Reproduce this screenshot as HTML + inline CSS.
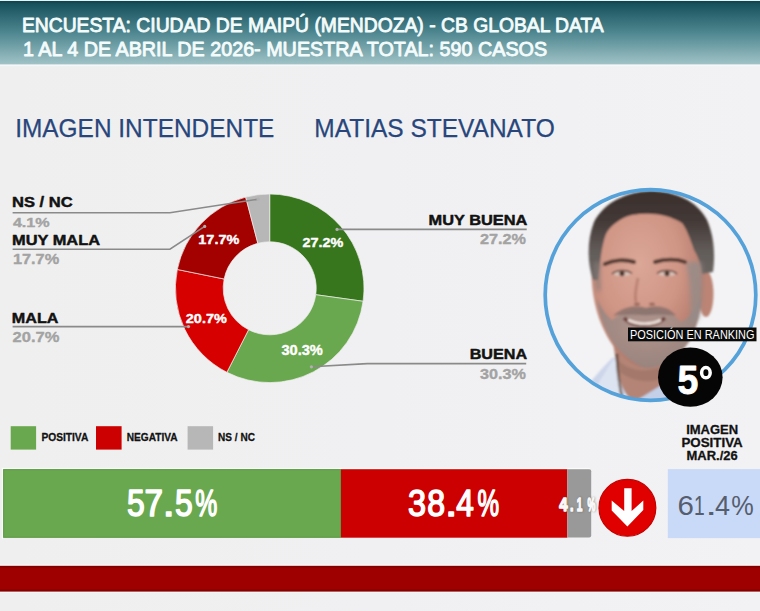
<!DOCTYPE html>
<html><head><meta charset="utf-8"><style>
html,body{margin:0;padding:0;width:760px;height:611px;overflow:hidden;background:#f0f0f1}
svg{display:block;font-family:"Liberation Sans",sans-serif}
</style></head><body>
<svg width="760" height="611" viewBox="0 0 760 611">
<defs><linearGradient id="bgg" x1="0" y1="0" x2="1" y2="0"><stop offset="0" stop-color="#efefef"/><stop offset="0.5" stop-color="#f0f0f2"/><stop offset="1" stop-color="#f2f2f4"/></linearGradient></defs><rect x="0" y="0" width="760" height="611" fill="url(#bgg)"/><defs>
<linearGradient id="hg" x1="0" y1="0" x2="0" y2="1">
<stop offset="0" stop-color="#143f48"/><stop offset="0.05" stop-color="#18525d"/><stop offset="0.5" stop-color="#4f8790"/><stop offset="1" stop-color="#a0c3c7"/>
</linearGradient>
<linearGradient id="stripe" x1="0" y1="0" x2="0" y2="1">
<stop offset="0" stop-color="#7a0000"/><stop offset="0.12" stop-color="#9e0000"/><stop offset="0.88" stop-color="#9e0000"/><stop offset="1" stop-color="#7a0000"/>
</linearGradient>
<clipPath id="photoclip"><circle cx="650.5" cy="295" r="105"/></clipPath>
<filter id="blur2" x="-20%" y="-20%" width="140%" height="140%"><feGaussianBlur stdDeviation="2"/></filter>
<filter id="blur4" x="-30%" y="-30%" width="160%" height="160%"><feGaussianBlur stdDeviation="4"/></filter>
<filter id="blur1"><feGaussianBlur stdDeviation="1"/></filter>
</defs><rect x="0" y="0" width="760" height="1" fill="#dff6fa"/><rect x="0" y="1" width="760" height="63.6" fill="url(#hg)"/><rect x="0" y="64.6" width="760" height="1.5" fill="#f6f7f9"/><text x="21.9" y="31.8" font-size="20.78" fill="#f4fbfb"  text-anchor="start" textLength="581.8" lengthAdjust="spacingAndGlyphs"  stroke="#f4fbfb" stroke-width="0.9" stroke-linejoin="round">ENCUESTA: CIUDAD DE MAIPÚ (MENDOZA) - CB GLOBAL DATA</text>
<text x="22.9" y="55.6" font-size="20.35" fill="#f4fbfb"  text-anchor="start" textLength="524.2" lengthAdjust="spacingAndGlyphs"  stroke="#f4fbfb" stroke-width="0.9" stroke-linejoin="round">1 AL 4 DE ABRIL DE 2026- MUESTRA TOTAL: 590 CASOS</text>
<text x="15.2" y="136.9" font-size="26.16" fill="#28467c"  text-anchor="start" textLength="259.2" lengthAdjust="spacingAndGlyphs"  stroke="#28467c" stroke-width="0.25" stroke-linejoin="round">IMAGEN INTENDENTE</text>
<text x="314.3" y="137.3" font-size="26.16" fill="#28467c"  text-anchor="start" textLength="240.4" lengthAdjust="spacingAndGlyphs"  stroke="#28467c" stroke-width="0.25" stroke-linejoin="round">MATIAS STEVANATO</text>
<path d="M269.70,194.00 A94.3,94.3 0 0 1 363.10,301.29 L315.76,294.71 A46.5,46.5 0 0 0 269.70,241.80 Z" fill="#38761d" stroke="#eeeeee" stroke-width="0.7"/>
<path d="M363.10,301.29 A94.3,94.3 0 0 1 226.89,372.32 L248.59,329.73 A46.5,46.5 0 0 0 315.76,294.71 Z" fill="#6aa84f" stroke="#eeeeee" stroke-width="0.7"/>
<path d="M226.89,372.32 A94.3,94.3 0 0 1 177.30,269.47 L224.14,279.01 A46.5,46.5 0 0 0 248.59,329.73 Z" fill="#d60000" stroke="#eeeeee" stroke-width="0.7"/>
<path d="M177.30,269.47 A94.3,94.3 0 0 1 245.68,197.11 L257.85,243.33 A46.5,46.5 0 0 0 224.14,279.01 Z" fill="#a30000" stroke="#eeeeee" stroke-width="0.7"/>
<path d="M245.68,197.11 A94.3,94.3 0 0 1 269.70,194.00 L269.70,241.80 A46.5,46.5 0 0 0 257.85,243.33 Z" fill="#b7b7b7" stroke="#eeeeee" stroke-width="0.7"/>
<g stroke="#8a8a8a" stroke-width="1.6" fill="none"><polyline points="12.6,212.7 169.9,212.7 258.2,199.2"/><polyline points="12.6,249.2 169.9,249.2 204.7,226.4"/><polyline points="12.6,326.6 188.5,326.6"/><polyline points="337,229.4 526.7,229.4"/><polyline points="311.4,366.8 367.3,363.6 526.2,363.6"/></g><g fill="#b0b0b0"><circle cx="258.2" cy="199.2" r="1.6"/><circle cx="204.7" cy="226.4" r="1.6"/><circle cx="188.5" cy="326.6" r="1.6"/><circle cx="337" cy="229.4" r="1.6"/><circle cx="311.4" cy="366.8" r="1.6"/></g><text x="12.0" y="207.4" font-size="13.95" fill="#121212" font-weight="bold" text-anchor="start" textLength="60.6" lengthAdjust="spacingAndGlyphs"  stroke="#121212" stroke-width="0.45" stroke-linejoin="round">NS / NC</text>
<text x="12.9" y="227.4" font-size="13.37" fill="#a3a3a3" font-weight="bold" text-anchor="start" textLength="36.8" lengthAdjust="spacingAndGlyphs"  stroke="#a3a3a3" stroke-width="0.35" stroke-linejoin="round">4.1%</text>
<text x="12.0" y="245.0" font-size="13.95" fill="#121212" font-weight="bold" text-anchor="start" textLength="88.0" lengthAdjust="spacingAndGlyphs"  stroke="#121212" stroke-width="0.45" stroke-linejoin="round">MUY MALA</text>
<text x="12.9" y="264.3" font-size="14.24" fill="#a3a3a3" font-weight="bold" text-anchor="start" textLength="46.3" lengthAdjust="spacingAndGlyphs"  stroke="#a3a3a3" stroke-width="0.35" stroke-linejoin="round">17.7%</text>
<text x="11.8" y="322.7" font-size="14.53" fill="#121212" font-weight="bold" text-anchor="start" textLength="46.6" lengthAdjust="spacingAndGlyphs"  stroke="#121212" stroke-width="0.45" stroke-linejoin="round">MALA</text>
<text x="12.6" y="342.4" font-size="14.53" fill="#a3a3a3" font-weight="bold" text-anchor="start" textLength="46.8" lengthAdjust="spacingAndGlyphs"  stroke="#a3a3a3" stroke-width="0.35" stroke-linejoin="round">20.7%</text>
<text x="428.5" y="224.6" font-size="14.1" fill="#121212" font-weight="bold" text-anchor="start" textLength="98.9" lengthAdjust="spacingAndGlyphs"  stroke="#121212" stroke-width="0.45" stroke-linejoin="round">MUY BUENA</text>
<text x="480" y="244.4" font-size="14.1" fill="#a3a3a3" font-weight="bold" text-anchor="start" textLength="46" lengthAdjust="spacingAndGlyphs"  stroke="#a3a3a3" stroke-width="0.35" stroke-linejoin="round">27.2%</text>
<text x="469.7" y="359.3" font-size="14.53" fill="#121212" font-weight="bold" text-anchor="start" textLength="57.4" lengthAdjust="spacingAndGlyphs"  stroke="#121212" stroke-width="0.45" stroke-linejoin="round">BUENA</text>
<text x="480" y="379.3" font-size="15.12" fill="#a3a3a3" font-weight="bold" text-anchor="start" textLength="46" lengthAdjust="spacingAndGlyphs"  stroke="#a3a3a3" stroke-width="0.35" stroke-linejoin="round">30.3%</text>
<text x="302.5" y="246.5" font-size="13.37" fill="#ffffff" font-weight="bold" text-anchor="start" textLength="40.8" lengthAdjust="spacingAndGlyphs"  stroke="#ffffff" stroke-width="0.4" stroke-linejoin="round">27.2%</text>
<text x="281.4" y="355.4" font-size="13.95" fill="#ffffff" font-weight="bold" text-anchor="start" textLength="41.4" lengthAdjust="spacingAndGlyphs"  stroke="#ffffff" stroke-width="0.4" stroke-linejoin="round">30.3%</text>
<text x="185.8" y="323.4" font-size="13.08" fill="#ffffff" font-weight="bold" text-anchor="start" textLength="41" lengthAdjust="spacingAndGlyphs"  stroke="#ffffff" stroke-width="0.4" stroke-linejoin="round">20.7%</text>
<text x="198.3" y="244.2" font-size="13.08" fill="#ffffff" font-weight="bold" text-anchor="start" textLength="41" lengthAdjust="spacingAndGlyphs"  stroke="#ffffff" stroke-width="0.4" stroke-linejoin="round">17.7%</text>
<g clip-path="url(#photoclip)"><rect x="540" y="185" width="220" height="225" fill="#f3f3f5"/><defs>
<radialGradient id="skin" cx="0.42" cy="0.35" r="0.65">
<stop offset="0" stop-color="#dba797"/><stop offset="0.55" stop-color="#cf9585"/><stop offset="1" stop-color="#b07768"/>
</radialGradient>
<linearGradient id="hairg" gradientUnits="userSpaceOnUse" x1="0" y1="190" x2="0" y2="292">
<stop offset="0" stop-color="#3a2f2b"/><stop offset="0.3" stop-color="#433936"/><stop offset="0.6" stop-color="#625c59"/><stop offset="1" stop-color="#726c69"/>
</linearGradient>
<radialGradient id="beard" cx="0.5" cy="0.45" r="0.6">
<stop offset="0" stop-color="#ab948d"/><stop offset="1" stop-color="#938581"/>
</radialGradient>
</defs>
<g filter="url(#blur1)">
<!-- shirt -->
<path d="M575,410 L580,395 C588,385 598,372 612,358 L620,356 L626,400 Z" fill="#ccd6ea"/>
<path d="M598,384 C604,374 610,364 616,356 L622,372 L622,400 L592,400 Z" fill="#dde4f1"/>
<path d="M634,402 L660,384 L676,370 L692,362 C708,366 722,376 735,392 L735,410 L630,410 Z" fill="#c3d0e8"/>
<!-- neck -->
<path d="M612,336 L616,362 C618,380 624,396 634,402 L660,386 L676,368 L684,344 Z" fill="#b48577"/>
<path d="M618,360 C630,372 650,374 672,362 L666,378 C650,384 632,382 620,372 Z" fill="#9d7468" opacity="0.7"/>
<!-- necklace -->
<path d="M617,354 C617,368 619,382 622,398" stroke="#4a3528" stroke-width="2.6" fill="none" stroke-dasharray="2.2 0.8"/>
<!-- ear right -->
<ellipse cx="706" cy="294" rx="7.5" ry="23" fill="#bb8474"/>
<!-- face -->
<path d="M592,258 C590,285 594,310 605,332 C615,352 629,366 645,368 C663,369 680,357 692,337 C700,319 704,295 705,265 C706,240 695,212 650,208 C610,208 594,230 592,258 Z" fill="url(#skin)"/>
<!-- beard stubble -->
<path d="M597,298 C599,318 607,336 619,350 C631,362 641,368 647,368 C664,368 680,356 690,340 C698,326 701,310 701,296 C695,310 689,318 681,322 C673,313 660,308 646,308 C632,308 620,314 612,320 C605,314 600,306 597,298 Z" fill="url(#beard)" opacity="0.85"/>
<!-- hair -->
<path d="M593,280 C587,262 587,240 594,222 C604,203 625,192 650,191 C676,191 697,201 707,220 C715,238 715,258 713,272 L702,274 C701,266 699,258 694,250 C690,238 686,228 682,223 C668,214 650,212 632,215 C620,218 610,226 606,234 C602,244 600,262 598,280 Z" fill="url(#hairg)"/>
<!-- sideburns -->
<path d="M686,262 C690,282 692,302 690,326 L699,318 C702,300 703,282 701,262 Z" fill="#968c89" opacity="0.85" filter="url(#blur2)"/>
<path d="M594,262 C594,272 595,282 597,292 L601,290 C600,280 600,270 601,262 Z" fill="#857a77" opacity="0.7" filter="url(#blur2)"/>
<!-- eyebrows -->
<path d="M605,264 C613,260 625,259 634,262" stroke="#553a32" stroke-width="4" fill="none" stroke-linecap="round"/>
<path d="M655,262 C665,259 677,259 685,262" stroke="#553a32" stroke-width="4" fill="none" stroke-linecap="round"/>
<!-- eyes -->
<path d="M613,274 C617,270 627,270 631,274 C627,277 617,277 613,274 Z" fill="#d9c2b8"/>
<path d="M658,274 C662,270 672,270 676,274 C672,277 662,277 658,274 Z" fill="#d9c2b8"/>
<circle cx="622" cy="273.6" r="2.6" fill="#4a3028"/>
<circle cx="667" cy="273.6" r="2.6" fill="#4a3028"/>
<path d="M612,274 C617,269.5 627,269.5 632,273.5" stroke="#5a3c34" stroke-width="1.6" fill="none"/>
<path d="M657,273.5 C662,269.5 672,269.5 677,274" stroke="#5a3c34" stroke-width="1.6" fill="none"/>
<!-- nose -->
<path d="M638,278 C636,288 634,296 636,302" stroke="#b07868" stroke-width="3" fill="none" opacity="0.7"/>
<ellipse cx="637" cy="304" rx="3" ry="1.6" fill="#8a5a50" opacity="0.8"/>
<ellipse cx="652" cy="304" rx="3" ry="1.6" fill="#8a5a50" opacity="0.8"/>
<!-- mustache -->
<path d="M617,314 C626,307 638,306 646,309 C654,306 666,307 673,314 C664,313 654,313 646,314 C636,313 626,313 617,314 Z" fill="#87706a" stroke="#87706a" stroke-width="2.4" opacity="0.8"/>
<!-- mouth -->
<path d="M624,318 C634,328 654,328 665,318" stroke="#6a3a34" stroke-width="3.5" fill="none"/>
<path d="M628,320 C638,325 652,325 661,320" stroke="#f0e2dc" stroke-width="2.6" fill="none"/>
</g></g><circle cx="650.5" cy="295" r="105.3" fill="none" stroke="#55a1d9" stroke-width="3.7"/><rect x="628" y="327.5" width="128.5" height="13.8" fill="#0a0a0a"/><text x="630" y="338.8" font-size="11.92" fill="#ffffff"  text-anchor="start" textLength="124.5" lengthAdjust="spacingAndGlyphs" >POSICIÓN EN RANKING</text>
<ellipse cx="690.3" cy="377.2" rx="32.3" ry="29.6" fill="#050505"/><text transform="translate(678.60,394.2) scale(0.933,1)" x="-1.24" y="0" font-size="40.12" fill="#ffffff" font-weight="bold" stroke="#ffffff" stroke-width="0.8" stroke-linejoin="round">5</text>
<ellipse cx="705.9" cy="372.7" rx="4.3" ry="5.1" fill="none" stroke="#ffffff" stroke-width="3.5"/><rect x="10.7" y="426.2" width="25.4" height="23.4" fill="#6aa84f"/><rect x="96" y="426.2" width="25.6" height="23.4" fill="#cc0000"/><rect x="187.6" y="426.2" width="25.5" height="23.4" fill="#b7b7b7"/><text x="41.4" y="440.8" font-size="11.63" fill="#121212" font-weight="bold" text-anchor="start" textLength="46.9" lengthAdjust="spacingAndGlyphs"  stroke="#121212" stroke-width="0.3" stroke-linejoin="round">POSITIVA</text>
<text x="126.8" y="440.8" font-size="11.63" fill="#121212" font-weight="bold" text-anchor="start" textLength="50.8" lengthAdjust="spacingAndGlyphs"  stroke="#121212" stroke-width="0.3" stroke-linejoin="round">NEGATIVA</text>
<text x="218.1" y="440.8" font-size="11.63" fill="#121212" font-weight="bold" text-anchor="start" textLength="36.9" lengthAdjust="spacingAndGlyphs"  stroke="#121212" stroke-width="0.3" stroke-linejoin="round">NS / NC</text>
<rect x="1.9" y="467.9" width="588" height="1.3" fill="#fafcfa"/><rect x="1.9" y="467.9" width="1.3" height="71" fill="#fafcfa"/><rect x="3.2" y="469.2" width="337.8" height="68.5" fill="#6aa84f"/><rect x="3.7" y="469.7" width="336.8" height="67.5" fill="none" stroke="#5f9a47" stroke-width="1"/><rect x="341" y="469.2" width="226.3" height="68.5" fill="#cc0000"/><path d="M567.3,469.3 H589.2 Q591.2,469.3 591.2,471.3 V535.6 Q591.2,537.6 589.2,537.6 H567.3 Z" fill="#999999"/><text transform="translate(128.15,516.1) scale(0.884,1)" x="-1.44" y="0" font-size="36.05" fill="#ffffff" stroke="#ffffff" stroke-width="1.5" stroke-linejoin="round">5</text><text transform="translate(146.25,516.1) scale(0.921,1)" x="-1.84" y="0" font-size="36.05" fill="#ffffff" stroke="#ffffff" stroke-width="1.5" stroke-linejoin="round">7</text><text transform="translate(166.75,516.1) scale(1.185,1)" x="-3.28" y="0" font-size="36.05" fill="#ffffff" stroke="#ffffff" stroke-width="1.5" stroke-linejoin="round">.</text><text transform="translate(176.25,516.1) scale(0.884,1)" x="-1.44" y="0" font-size="36.05" fill="#ffffff" stroke="#ffffff" stroke-width="1.5" stroke-linejoin="round">5</text><text transform="translate(196.05,516.1) scale(0.688,1)" x="-1.30" y="0" font-size="36.05" fill="#ffffff" stroke="#ffffff" stroke-width="1.5" stroke-linejoin="round">%</text>
<text transform="translate(409.35,516.1) scale(0.901,1)" x="-1.37" y="0" font-size="36.05" fill="#ffffff" stroke="#ffffff" stroke-width="1.5" stroke-linejoin="round">3</text><text transform="translate(428.65,516.1) scale(0.891,1)" x="-1.55" y="0" font-size="36.05" fill="#ffffff" stroke="#ffffff" stroke-width="1.5" stroke-linejoin="round">8</text><text transform="translate(449.15,516.1) scale(1.185,1)" x="-3.28" y="0" font-size="36.05" fill="#ffffff" stroke="#ffffff" stroke-width="1.5" stroke-linejoin="round">.</text><text transform="translate(457.05,516.1) scale(0.875,1)" x="-0.83" y="0" font-size="36.05" fill="#ffffff" stroke="#ffffff" stroke-width="1.5" stroke-linejoin="round">4</text><text transform="translate(478.35,516.1) scale(0.675,1)" x="-1.30" y="0" font-size="36.05" fill="#ffffff" stroke="#ffffff" stroke-width="1.5" stroke-linejoin="round">%</text>
<g filter="url(#blur1)" opacity="0.55"><text transform="translate(560.15,511.4) scale(0.778,1)" x="-0.29" y="0" font-size="19.19" fill="#555555" font-weight="bold" stroke="#555555" stroke-width="1.5" stroke-linejoin="round">4</text><text transform="translate(571.65,511.4) scale(0.665,1)" x="-1.30" y="0" font-size="19.19" fill="#555555" font-weight="bold" stroke="#555555" stroke-width="1.5" stroke-linejoin="round">.</text><text transform="translate(578.25,511.4) scale(0.527,1)" x="-1.21" y="0" font-size="19.19" fill="#555555" font-weight="bold" stroke="#555555" stroke-width="1.5" stroke-linejoin="round">1</text><text transform="translate(588.45,511.4) scale(0.460,1)" x="-0.48" y="0" font-size="19.19" fill="#555555" font-weight="bold" stroke="#555555" stroke-width="1.5" stroke-linejoin="round">%</text>
</g><text transform="translate(559.35,510.6) scale(0.778,1)" x="-0.29" y="0" font-size="19.19" fill="#f8f8f8" font-weight="bold" stroke="#f8f8f8" stroke-width="1.5" stroke-linejoin="round">4</text><text transform="translate(570.85,510.6) scale(0.665,1)" x="-1.30" y="0" font-size="19.19" fill="#f8f8f8" font-weight="bold" stroke="#f8f8f8" stroke-width="1.5" stroke-linejoin="round">.</text><text transform="translate(577.45,510.6) scale(0.527,1)" x="-1.21" y="0" font-size="19.19" fill="#f8f8f8" font-weight="bold" stroke="#f8f8f8" stroke-width="1.5" stroke-linejoin="round">1</text><text transform="translate(587.65,510.6) scale(0.460,1)" x="-0.48" y="0" font-size="19.19" fill="#f8f8f8" font-weight="bold" stroke="#f8f8f8" stroke-width="1.5" stroke-linejoin="round">%</text>
<circle cx="627.4" cy="507.8" r="28.4" fill="#e00000" stroke="#c40000" stroke-width="1.2"/><polygon points="624.2,488.3 631.6,488.3 631.6,511.1 643.3,500.5 643.3,510.1 627.4,526.6 611.7,510.6 611.7,500.5 624.2,511.1" fill="#ffffff"/><rect x="667.8" y="469.1" width="92.2" height="69" fill="#c9daf8"/><text transform="translate(678.90,514.6) scale(1.074,1)" x="-1.40" y="0" font-size="27.47" fill="#565e6e">6</text><text transform="translate(695.50,514.6) scale(0.701,1)" x="-2.09" y="0" font-size="27.47" fill="#565e6e">1</text><text transform="translate(709.10,514.6) scale(1.555,1)" x="-2.50" y="0" font-size="27.47" fill="#565e6e">.</text><text transform="translate(715.60,514.6) scale(0.982,1)" x="-0.63" y="0" font-size="27.47" fill="#565e6e">4</text><text transform="translate(732.20,514.6) scale(0.921,1)" x="-0.99" y="0" font-size="27.47" fill="#565e6e">%</text>
<text x="686.15" y="433.9" font-size="12.79" fill="#121212" font-weight="bold" text-anchor="start" textLength="51.9" lengthAdjust="spacingAndGlyphs"  stroke="#121212" stroke-width="0.3" stroke-linejoin="round">IMAGEN</text>
<text x="681.45" y="446.6" font-size="12.5" fill="#121212" font-weight="bold" text-anchor="start" textLength="61.3" lengthAdjust="spacingAndGlyphs"  stroke="#121212" stroke-width="0.3" stroke-linejoin="round">POSITIVA</text>
<text x="686.55" y="459.5" font-size="12.79" fill="#121212" font-weight="bold" text-anchor="start" textLength="51.1" lengthAdjust="spacingAndGlyphs"  stroke="#121212" stroke-width="0.3" stroke-linejoin="round">MAR./26</text>
<rect x="0" y="564.6" width="760" height="28" fill="#fbfbfb"/><rect x="0" y="565.8" width="760" height="25.8" fill="url(#stripe)"/>
</svg>
</body></html>
